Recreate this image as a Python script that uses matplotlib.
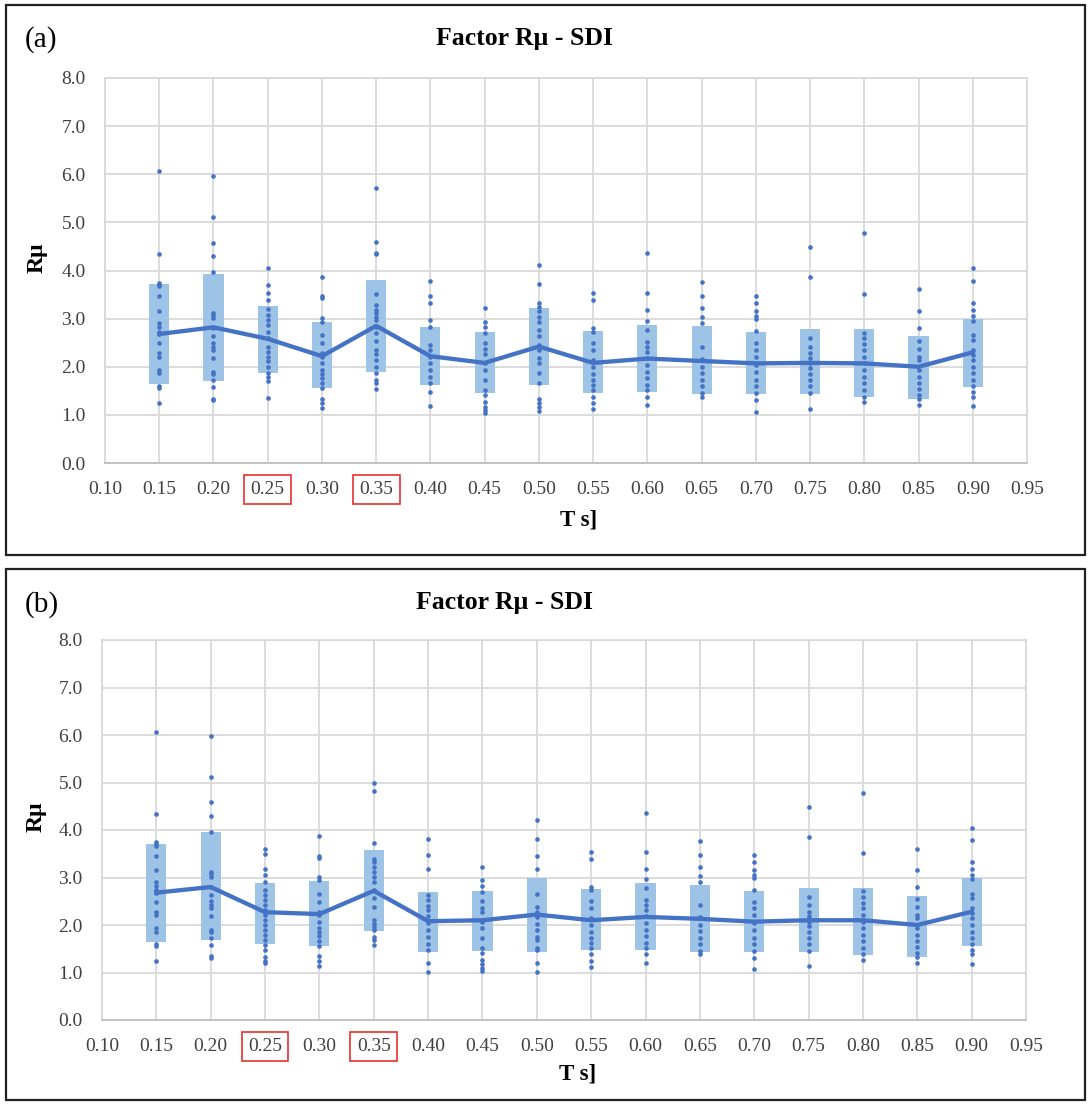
import matplotlib
matplotlib.use("Agg")
import matplotlib.pyplot as plt
from matplotlib.patches import Rectangle

plt.rcParams['font.family'] = ['Liberation Serif', 'DejaVu Serif']

# ---------------- data ----------------
T = [0.15, 0.20, 0.25, 0.30, 0.35, 0.40, 0.45, 0.50,
     0.55, 0.60, 0.65, 0.70, 0.75, 0.80, 0.85, 0.90]
x_ticks = [0.10, 0.15, 0.20, 0.25, 0.30, 0.35, 0.40, 0.45, 0.50,
           0.55, 0.60, 0.65, 0.70, 0.75, 0.80, 0.85, 0.90, 0.95]
y_ticks = [0.0, 1.0, 2.0, 3.0, 4.0, 5.0, 6.0, 7.0, 8.0]
highlight = ["0.25", "0.35"]

mean_a = [2.68, 2.82, 2.58, 2.22, 2.85, 2.22, 2.08, 2.42,
          2.08, 2.17, 2.12, 2.07, 2.08, 2.07, 2.00, 2.30]
lo_a = [1.65, 1.70, 1.88, 1.55, 1.90, 1.62, 1.46, 1.62,
        1.45, 1.47, 1.43, 1.43, 1.43, 1.38, 1.33, 1.57]
hi_a = [3.72, 3.93, 3.27, 2.92, 3.80, 2.82, 2.72, 3.22,
        2.75, 2.87, 2.84, 2.72, 2.78, 2.78, 2.64, 3.00]

mean_b = [2.68, 2.80, 2.27, 2.23, 2.72, 2.08, 2.10, 2.22,
          2.10, 2.17, 2.13, 2.07, 2.10, 2.10, 2.00, 2.28]
lo_b = [1.65, 1.68, 1.60, 1.55, 1.88, 1.43, 1.45, 1.43,
        1.47, 1.47, 1.43, 1.43, 1.43, 1.37, 1.32, 1.55]
hi_b = [3.70, 3.95, 2.88, 2.92, 3.57, 2.70, 2.72, 3.00,
        2.75, 2.88, 2.85, 2.72, 2.78, 2.78, 2.62, 3.00]

pts_a = [
    [6.06, 4.34, 3.74, 3.70, 3.67, 3.46, 3.15, 2.90, 2.83, 2.73, 2.68, 2.49,
     2.28, 2.21, 1.93, 1.86, 1.59, 1.55, 1.25],
    [5.97, 5.12, 4.58, 4.30, 3.96, 3.12, 3.08, 3.01, 2.80, 2.63, 2.50, 2.42,
     2.35, 2.18, 1.90, 1.85, 1.73, 1.57, 1.34, 1.30],
    [4.06, 3.69, 3.54, 3.39, 3.19, 3.08, 2.97, 2.87, 2.73, 2.59, 2.42, 2.31,
     2.21, 2.11, 2.00, 1.88, 1.79, 1.71, 1.35],
    [3.87, 3.46, 3.42, 3.01, 2.94, 2.66, 2.49, 2.28, 2.21, 2.07, 1.93, 1.85,
     1.76, 1.66, 1.55, 1.34, 1.24, 1.14],
    [5.72, 4.60, 4.37, 4.34, 3.51, 3.28, 3.18, 3.11, 3.04, 2.97, 2.83, 2.70,
     2.54, 2.35, 2.27, 2.14, 2.00, 1.86, 1.73, 1.66, 1.53],
    [3.78, 3.46, 3.33, 2.97, 2.83, 2.45, 2.35, 2.21, 2.07, 1.93, 1.79, 1.66,
     1.48, 1.18],
    [3.22, 2.94, 2.83, 2.70, 2.50, 2.36, 2.27, 2.07, 1.93, 1.73, 1.52, 1.41,
     1.27, 1.17, 1.10, 1.03],
    [4.12, 3.72, 3.32, 3.25, 3.15, 3.04, 2.94, 2.77, 2.63, 2.45, 2.35, 2.18,
     2.07, 1.88, 1.66, 1.34, 1.24, 1.17, 1.08],
    [3.53, 3.39, 2.80, 2.73, 2.50, 2.35, 2.14, 2.00, 1.85, 1.73, 1.62, 1.52,
     1.38, 1.24, 1.12],
    [4.36, 3.53, 3.17, 2.96, 2.77, 2.52, 2.42, 2.31, 2.18, 2.04, 1.90, 1.76,
     1.62, 1.52, 1.38, 1.21],
    [3.77, 3.48, 3.23, 3.04, 2.90, 2.42, 2.16, 2.00, 1.88, 1.73, 1.59, 1.46,
     1.38],
    [3.48, 3.32, 3.15, 3.06, 2.99, 2.74, 2.49, 2.35, 2.21, 2.04, 1.90, 1.73,
     1.59, 1.45, 1.31, 1.07],
    [4.48, 3.86, 2.59, 2.42, 2.28, 2.18, 2.07, 1.97, 1.85, 1.73, 1.59, 1.45,
     1.13],
    [4.77, 3.51, 2.71, 2.59, 2.47, 2.35, 2.21, 2.07, 1.93, 1.79, 1.66, 1.52,
     1.38, 1.27],
    [3.61, 3.16, 2.80, 2.54, 2.37, 2.21, 2.14, 1.93, 1.79, 1.66, 1.53, 1.41,
     1.32, 1.20],
    [4.05, 3.78, 3.32, 3.17, 3.06, 2.96, 2.66, 2.56, 2.35, 2.25, 2.14, 2.00,
     1.86, 1.73, 1.59, 1.48, 1.38, 1.18],
]

pts_b_025 = [3.61, 3.49, 3.17, 3.05, 2.91, 2.73, 2.63, 2.52, 2.42, 2.31, 2.21,
             2.10, 2.00, 1.89, 1.79, 1.68, 1.58, 1.47, 1.33, 1.25, 1.19]
pts_b_035 = [4.98, 4.82, 3.72, 3.40, 3.33, 3.23, 3.12, 3.02, 2.91, 2.73, 2.56,
             2.38, 2.10, 2.03, 1.96, 1.89, 1.75, 1.68, 1.58]
pts_b_040 = [3.82, 3.47, 3.17, 2.63, 2.53, 2.39, 2.31, 2.18, 2.04, 1.90, 1.75,
             1.61, 1.47, 1.21, 1.02]
pts_b_050 = [4.21, 3.82, 3.46, 3.17, 2.66, 2.38, 2.28, 2.17, 2.03, 1.89, 1.75,
             1.68, 1.51, 1.47, 1.21, 1.02]
pts_b = list(pts_a)
pts_b[2] = pts_b_025
pts_b[4] = pts_b_035
pts_b[5] = pts_b_040
pts_b[7] = pts_b_050

# ---------------- styling ----------------
LINE = '#4472C4'
BOX = '#9DC3E6'
GRID = '#D9D9D9'
TXT = '#404040'

W, H = 1090, 1107
fig = plt.figure(figsize=(W / 100, H / 100), dpi=100)


def fx(px):
    return px / W


def fy(py):
    return 1 - py / H


def panel(rect_px, ax_px, label, label_y, title_x, title_y, ylab_xy, xlab_xy,
          mean, lo, hi, pts):
    x0, y0, x1, y1 = rect_px
    fig.patches.append(Rectangle((fx(x0), fy(y1)), fx(x1) - fx(x0), fy(y0) - fy(y1),
                                 transform=fig.transFigure, fill=False,
                                 edgecolor='#222222', linewidth=1.6))
    l, t, r, b = ax_px
    ax = fig.add_axes([fx(l), fy(b), fx(r) - fx(l), fy(t) - fy(b)])
    ax.set_xlim(0.10, 0.95)
    ax.set_ylim(0, 8)
    ax.set_xticks(x_ticks)
    ax.set_xticklabels([f"{v:.2f}" for v in x_ticks])
    ax.set_yticks(y_ticks)
    ax.set_yticklabels([f"{v:.1f}" for v in y_ticks])
    ax.grid(True, color=GRID, linewidth=1.3, zorder=0)
    ax.set_axisbelow(True)
    for s in ax.spines.values():
        s.set_color(GRID)
        s.set_linewidth(1.3)
    ax.spines['bottom'].set_color('#BFBFBF')
    ax.tick_params(length=0, labelsize=14, colors=TXT)
    ax.tick_params(axis='x', pad=13)
    ax.tick_params(axis='y', pad=14)

    heights = [h - lw for h, lw in zip(hi, lo)]
    ax.bar(T, heights, bottom=lo, width=0.0185, color=BOX, edgecolor='none',
           zorder=2)
    for t, col in zip(T, pts):
        ax.scatter([t] * len(col), col, s=11, color=LINE, zorder=3,
                   linewidths=0)
    ax.plot(T, mean, color=LINE, linewidth=3.1, zorder=4,
            solid_joinstyle='round')

    for tl in ax.get_xticklabels():
        if tl.get_text() in highlight:
            tl.set_bbox(dict(boxstyle='square,pad=0.33', facecolor='none',
                             edgecolor='#E8312F', linewidth=1.2))

    fig.text(fx(25), fy(label_y), label, fontsize=21, ha='left', va='center',
             color='black')
    fig.text(fx(title_x), fy(title_y), "Factor Rμ - SDI", fontsize=18.5,
             fontweight='bold', ha='center', va='center', color='black')
    fig.text(fx(ylab_xy[0]), fy(ylab_xy[1]), "Rμ", fontsize=17,
             fontweight='bold', rotation=90, ha='center', va='center')
    fig.text(fx(xlab_xy[0]), fy(xlab_xy[1]), "T s]", fontsize=16.5,
             fontweight='bold', ha='center', va='center')
    return ax


panel((6, 5, 1085, 555), (105, 78, 1027, 463), "(a)", 40, 525, 38,
      (37, 258), (579, 520), mean_a, lo_a, hi_a, pts_a)
panel((6, 569, 1085, 1100), (102, 640, 1026, 1020), "(b)", 605, 505, 603,
      (36, 817), (578, 1074), mean_b, lo_b, hi_b, pts_b)

fig.savefig("out.png", dpi=100)
